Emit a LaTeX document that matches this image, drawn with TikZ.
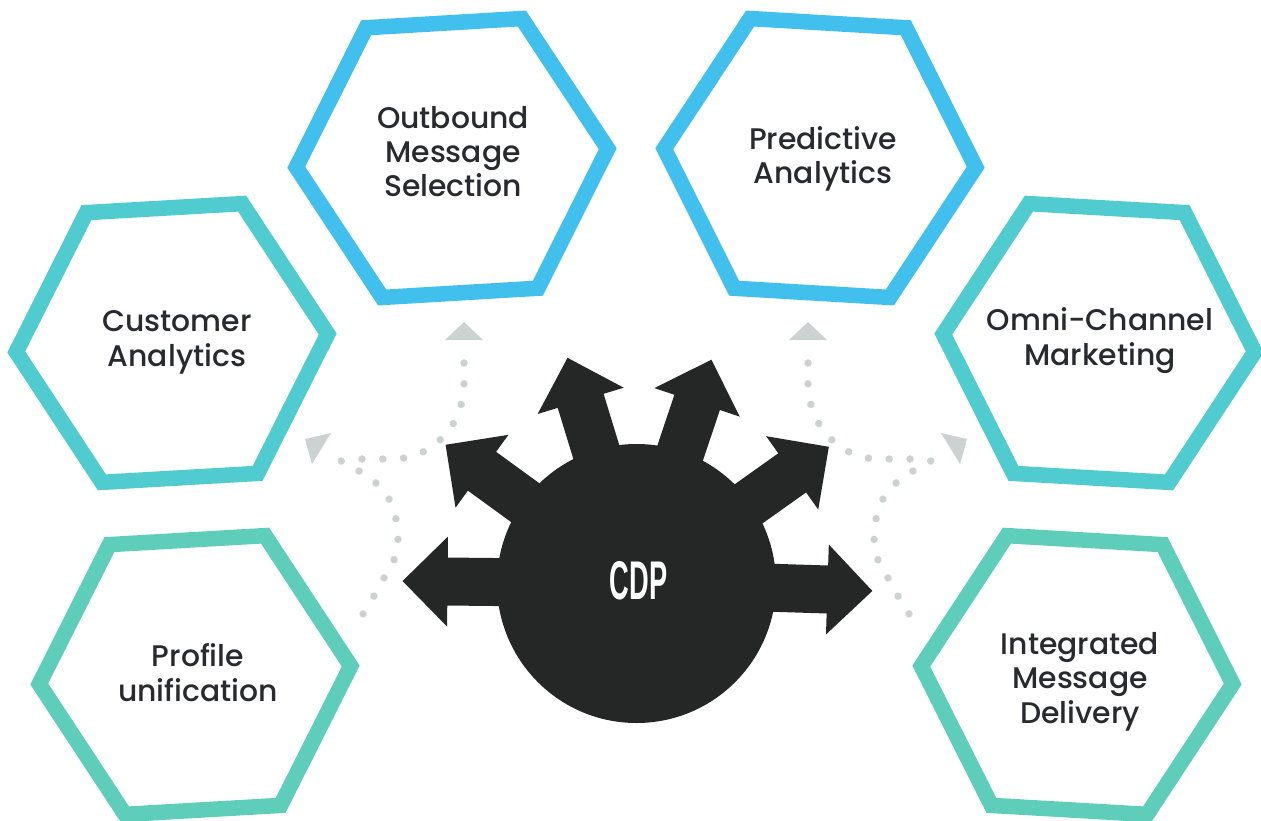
\documentclass[tikz,border=0pt]{standalone}
\usepackage{fontspec}
\usepackage{graphicx}
\newfontfamily\labfont{Poppins}[UprightFont={* Medium}]
\newfontfamily\cdpfont{Liberation Sans}[UprightFont={* Bold}]
\definecolor{hexblue}{RGB}{65,192,237}
\definecolor{hexteal}{RGB}{80,204,208}
\definecolor{hexgreen}{RGB}{94,206,187}
\definecolor{dotgray}{RGB}{204,209,209}
\definecolor{cdpblack}{RGB}{37,39,38}
\definecolor{labtext}{RGB}{40,42,48}
\begin{document}
\begin{tikzpicture}[x=1pt,y=-1pt,
  hexline/.style={line width=15.5pt, line join=miter},
  lbl/.style={font=\labfont\fontsize{29.8}{34.5}\selectfont, text=labtext, align=center, inner sep=0pt, anchor=base},
  dotline/.style={draw=dotgray, line width=7.5pt, line cap=round, dash pattern=on 0.01pt off 20.8pt},
  tri/.style={fill=dotgray},
  bigarrow/.style={fill=cdpblack}]
\useasboundingbox (0,0) rectangle (1261,821);
\fill[white] (0,0) rectangle (1261,821);

% hexagon centres
\coordinate (hOut) at (452,158);
\coordinate (hPre) at (820,158);
\coordinate (hCus) at (172,343);
\coordinate (hOmn) at (1099,343);
\coordinate (hPro) at (195,675);
\coordinate (hInt) at (1077,675);

\foreach \c/\r/\col in {hOut/3.4/hexblue, hPre/-3.4/hexblue, hCus/3.3/hexteal, hOmn/-3.3/hexteal, hPro/3.3/hexgreen, hInt/-3.3/hexgreen}{
  \draw[hexline, draw=\col, shift={(\c)}, rotate=\r] (0:156) -- (60:156) -- (120:156) -- (180:156) -- (240:156) -- (300:156) -- cycle;
}

% labels (anchor = baseline of the last line)
\node[lbl] (tOut) at (453,197) {Outbound\\Message\\Selection};
\node[lbl] (tPre) at (823,184) {Predictive\\Analytics};
\node[lbl] (tCus) at (177,366) {Customer\\Analytics};
\node[lbl] (tOmn) at (1100,365) {Omni-Channel\\Marketing};
\node[lbl] (tPro) at (198,701) {Profile\\unification};
\node[lbl] (tInt) at (1080,723) {Integrated\\Message\\Delivery};

% dotted guide paths
\coordinate (dL1a) at (464,363);
\coordinate (dL1b) at (341,461);
\coordinate (dL2a) at (359,471);
\coordinate (dL2b) at (363,614);
\coordinate (dR1a) at (808,363);
\coordinate (dR1b) at (931,461);
\coordinate (dR2a) at (913,471);
\coordinate (dR2b) at (909,614);
\draw[dotline] plot[smooth] coordinates {(dL1a) (464,384) (461,405) (453,424) (440,440) (423,452) (404,458) (383,459) (363,459) (dL1b)};
\draw[dotline] plot[smooth] coordinates {(dL2a) (376,483) (389,499) (396,519) (398,539) (394,560) (384,578) (374,596) (dL2b)};
\draw[dotline] plot[smooth] coordinates {(dR1a) (808,384) (811,405) (819,424) (832,440) (849,452) (868,458) (889,459) (909,459) (dR1b)};
\draw[dotline] plot[smooth] coordinates {(dR2a) (896,483) (883,499) (876,519) (874,539) (878,560) (888,578) (898,596) (dR2b)};
\fill[tri] (464,322) -- (483,340) -- (445,340) -- cycle;
\fill[tri] (808,322) -- (827,340) -- (789,340) -- cycle;
\fill[tri] (305,439) -- (331,433) -- (312,464) -- cycle;
\fill[tri] (967,439) -- (941,433) -- (960,464) -- cycle;

% CDP circle with arrows
\coordinate (cdpc) at (636.5,583.5);
\foreach \a/\d in {-1.8/236, 35.4/236, 71.5/236, 107/236, 144/236, 179.4/234}{
  \fill[bigarrow, shift={(cdpc)}, rotate=\a] (100,24) -- (\d-45,24) -- (\d-45,45) -- (\d,0) -- (\d-45,-45) -- (\d-45,-24) -- (100,-24) -- cycle;
}
\node[circle, fill=cdpblack, minimum size=279pt, inner sep=0pt] (cdp) at (cdpc) {};
\node[anchor=base, inner sep=0pt, text=white, font=\cdpfont\fontsize{54.5}{60}\selectfont] (cdplabel) at (638.5,599) {\scalebox{0.5}[1]{CDP}};
\end{tikzpicture}
\end{document}
